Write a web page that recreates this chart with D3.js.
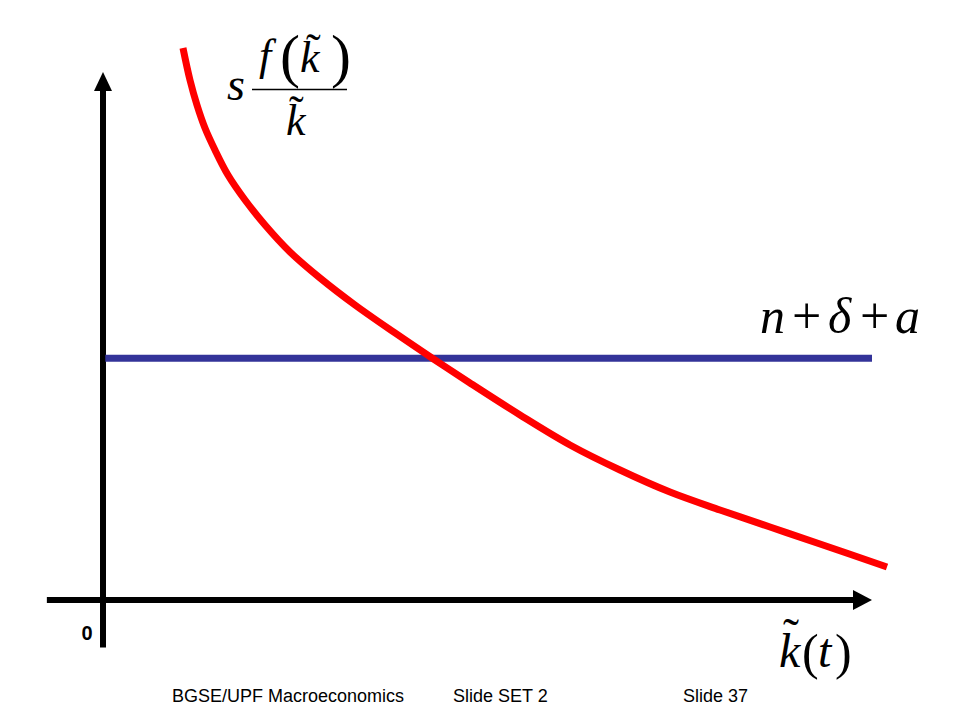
<!DOCTYPE html>
<html>
<head>
<meta charset="utf-8">
<script src="https://cdn.jsdelivr.net/npm/d3@7/dist/d3.min.js"></script>
<style>
  html, body { margin: 0; padding: 0; background: #fff; }
  svg { display: block; }
</style>
</head>
<body>
<script>
// ---- data (abstract units) ----
const kValues = [1.040, 1.131, 1.222, 1.326, 1.456, 1.625, 1.847, 2.107, 2.432, 2.822, 3.277, 3.797, 4.278, 4.772, 5.423, 6.073, 6.723, 7.373, 8.023, 8.674, 9.324, 10.195];
const savingsCurve = [10.455, 9.848, 9.375, 8.939, 8.523, 8.049, 7.576, 7.102, 6.591, 6.098, 5.587, 5.057, 4.583, 4.110, 3.504, 2.936, 2.462, 2.045, 1.705, 1.383, 1.061, 0.625];
const breakEvenK = [0.03, 10.0];
const breakEvenLevel = [4.58, 4.58];
const originLabel = "0";
const footerTexts = ["BGSE/UPF Macroeconomics", "Slide SET 2", "Slide 37"];

const W = 960, H = 720;
const svg = d3.select("body").append("svg").attr("width", W).attr("height", H);

const x = d3.scaleLinear().domain([0, 10]).range([103, 872]);
const y = d3.scaleLinear().domain([0, 10]).range([600, 72]);

// ---- axes ----
const axisColor = "#000";
svg.append("line")
  .attr("x1", x(-0.73)).attr("x2", x(10) - 18)
  .attr("y1", y(0)).attr("y2", y(0))
  .attr("stroke", axisColor).attr("stroke-width", 6);
svg.append("path")
  .attr("d", `M${x(10)},${y(0)} L${x(10) - 19},${y(0) - 10} L${x(10) - 19},${y(0) + 10} Z`)
  .attr("fill", axisColor);
svg.append("line")
  .attr("x1", x(0)).attr("x2", x(0))
  .attr("y1", y(-0.9)).attr("y2", y(10) + 18)
  .attr("stroke", axisColor).attr("stroke-width", 6);
svg.append("path")
  .attr("d", `M${x(0)},${y(10)} L${x(0) - 9},${y(10) + 19} L${x(0) + 9},${y(10) + 19} Z`)
  .attr("fill", axisColor);

// ---- break-even line ----
svg.append("line")
  .attr("x1", x(breakEvenK[0])).attr("x2", x(breakEvenK[1]))
  .attr("y1", y(breakEvenLevel[0])).attr("y2", y(breakEvenLevel[1]))
  .attr("stroke", "#333399").attr("stroke-width", 7);

// ---- savings curve ----
const pts = kValues.map((k, i) => [k, savingsCurve[i]]);
const line = d3.line().x(d => x(d[0])).y(d => y(d[1])).curve(d3.curveCatmullRom.alpha(0.5));
svg.append("path")
  .attr("d", line(pts))
  .attr("fill", "none")
  .attr("stroke", "#ff0000")
  .attr("stroke-width", 7);

// ---- math labels ----
const serif = "'Liberation Serif', 'DejaVu Serif', serif";
function t(xp, yp, str, size, italic, anchor) {
  return svg.append("text")
    .attr("x", xp).attr("y", yp)
    .attr("font-family", serif)
    .attr("font-size", size)
    .attr("font-style", italic ? "italic" : "normal")
    .attr("text-anchor", anchor || "start")
    .attr("fill", "#000")
    .text(str);
}
// s f(k~)/k~
t(227, 100, "s", 46, true);
svg.append("line").attr("x1", 252).attr("x2", 347).attr("y1", 89.5).attr("y2", 89.5)
  .attr("stroke", "#000").attr("stroke-width", 1.6);
t(259, 70, "f", 44, true);
t(280, 76, "(", 60, false);
t(300, 72, "k", 44, true);
t(306, 64, "\u02DC", 44, false);
t(331, 76, ")", 60, false);
t(286, 135, "k", 44, true);
t(289, 126, "\u02DC", 44, false);

// n + δ + a
t(760, 333, "n", 50, true);
t(792, 333, "+", 52, false);
t(828, 333, "\u03B4", 50, true);
t(860, 333, "+", 52, false);
t(895, 333, "a", 50, true);

// k~(t)
t(779, 667, "k", 48, true);
t(783, 652, "\u02DC", 48, false);
t(802, 669, "(", 50, false);
t(818, 667, "t", 48, true);
t(835, 669, ")", 50, false);

// origin label
svg.append("text")
  .attr("x", 87).attr("y", 640)
  .attr("font-family", "'Liberation Sans', Arial, sans-serif")
  .attr("font-size", 20).attr("font-weight", "bold")
  .attr("text-anchor", "middle")
  .text(originLabel);

// footer
const footX = [172, 453, 683];
footerTexts.forEach((s, i) => {
  svg.append("text")
    .attr("x", footX[i]).attr("y", 702)
    .attr("font-family", "'Liberation Sans', Arial, sans-serif")
    .attr("font-size", 18)
    .attr("fill", "#000")
    .text(s);
});
</script>
</body>
</html>
